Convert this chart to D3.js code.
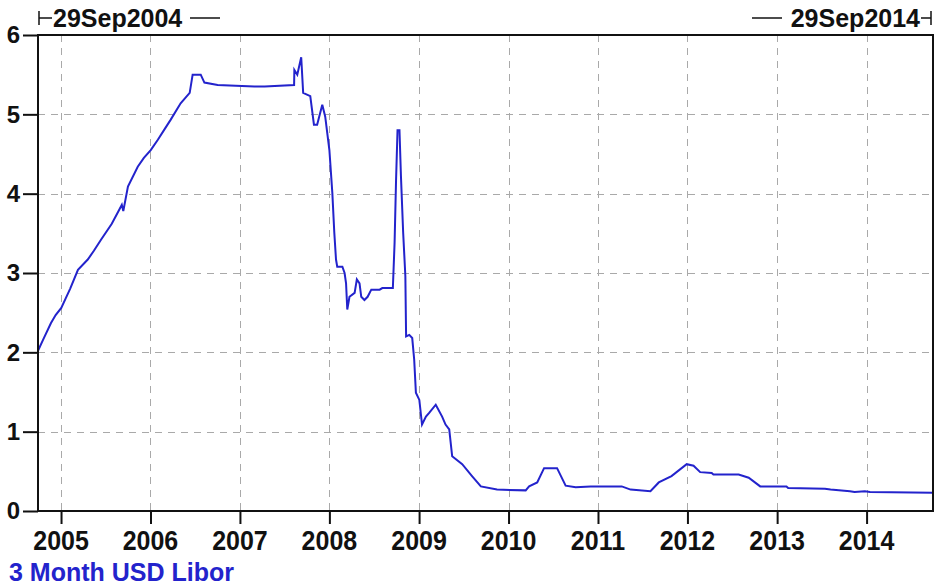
<!DOCTYPE html>
<html>
<head>
<meta charset="utf-8">
<script src="https://cdn.jsdelivr.net/npm/d3@7"></script>
<style>
  html, body { margin: 0; padding: 0; background: #fff; }
  svg { display: block; }
  text { font-family: "Liberation Sans", Arial, sans-serif; font-weight: bold; }
</style>
</head>
<body>
<svg id="chart" width="938" height="587"></svg>
<script>
// ---- data ----
const seriesName = "3 Month USD Libor";
const startLabel = "29Sep2004";
const endLabel = "29Sep2014";
const dates = [
  "2004-09-29","2004-10-20","2004-11-21","2004-12-10","2005-01-02","2005-01-20","2005-02-07","2005-03-11",
  "2005-04-20","2005-05-15","2005-06-13","2005-07-27","2005-08-27","2005-09-06","2005-09-12","2005-10-01",
  "2005-11-10","2005-12-05","2006-01-02","2006-01-31","2006-03-01","2006-03-24","2006-05-04","2006-06-10",
  "2006-06-22","2006-07-25","2006-08-09","2006-10-02","2006-12-15","2007-03-01","2007-04-12","2007-08-10",
  "2007-08-11","2007-08-23","2007-09-08","2007-09-16","2007-10-15","2007-10-30","2007-11-12","2007-12-03",
  "2007-12-15","2008-01-01","2008-01-13","2008-01-21","2008-01-28","2008-02-02","2008-02-23","2008-03-03",
  "2008-03-09","2008-03-14","2008-03-23","2008-04-13","2008-04-22","2008-05-03","2008-05-10","2008-05-23",
  "2008-06-05","2008-06-20","2008-07-24","2008-08-04","2008-09-16","2008-09-23","2008-09-29","2008-10-05",
  "2008-10-13","2008-10-19","2008-10-28","2008-11-06","2008-11-09","2008-11-22","2008-12-04","2008-12-12",
  "2008-12-19","2009-01-02","2009-01-13","2009-01-29","2009-02-12","2009-03-10","2009-04-05","2009-04-19",
  "2009-05-04","2009-05-16","2009-06-26","2009-08-05","2009-09-10","2009-11-15","2010-03-12","2010-03-26",
  "2010-04-28","2010-05-26","2010-07-18","2010-08-22","2010-10-02","2010-12-02","2011-04-08","2011-05-14",
  "2011-08-03","2011-09-06","2011-10-28","2011-12-29","2012-01-26","2012-02-22","2012-04-09","2012-04-16",
  "2012-07-28","2012-09-07","2012-10-24","2013-02-08","2013-02-15","2013-07-15","2013-08-07","2013-10-25",
  "2013-11-13","2013-12-25","2014-01-15","2014-09-29"
];
const values = [
  2.02, 2.16, 2.37, 2.47, 2.56, 2.68, 2.80, 3.04,
  3.17, 3.28, 3.42, 3.62, 3.80, 3.86, 3.78, 4.09,
  4.34, 4.45, 4.55, 4.68, 4.82, 4.93, 5.14, 5.27,
  5.50, 5.50, 5.40, 5.37, 5.36, 5.35, 5.35, 5.37,
  5.56, 5.50, 5.72, 5.27, 5.23, 4.87, 4.87, 5.12,
  4.97, 4.55, 4.01, 3.51, 3.17, 3.08, 3.08, 3.00,
  2.87, 2.54, 2.70, 2.75, 2.92, 2.87, 2.70, 2.66,
  2.70, 2.79, 2.79, 2.81, 2.81, 3.38, 4.17, 4.80,
  4.80, 4.22, 3.51, 2.96, 2.20, 2.22, 2.18, 1.91,
  1.49, 1.40, 1.09, 1.19, 1.24, 1.34, 1.19, 1.09,
  1.03, 0.69, 0.59, 0.44, 0.31, 0.27, 0.26, 0.31,
  0.36, 0.54, 0.54, 0.32, 0.30, 0.31, 0.31, 0.27,
  0.25, 0.36, 0.44, 0.59, 0.57, 0.49, 0.48, 0.46,
  0.46, 0.42, 0.31, 0.31, 0.29, 0.28, 0.27, 0.25,
  0.24, 0.25, 0.24, 0.23
];
const yearTicks = [2005, 2006, 2007, 2008, 2009, 2010, 2011, 2012, 2013, 2014];
const yTicks = [0, 1, 2, 3, 4, 5, 6];

// ---- layout ----
const L = 38, R = 933, T = 35, B = 511;
const parse = d3.timeParse("%Y-%m-%d");
const data = dates.map((d, i) => ({ date: parse(d), value: values[i] }));

const x = d3.scaleTime()
  .domain([parse("2004-09-29"), parse("2014-09-29")])
  .range([L, R]);
const y = d3.scaleLinear().domain([0, 6]).range([B, T]);

const svg = d3.select("#chart");
const lineColor = "#2323cc";

// grid
const grid = svg.append("g").attr("stroke", "#a9a9a9").attr("stroke-width", 1)
  .attr("stroke-dasharray", "7,6");
grid.selectAll("line.v").data(yearTicks).join("line")
  .attr("class", "v")
  .attr("x1", d => Math.round(x(new Date(d, 0, 1))) + 0.5)
  .attr("x2", d => Math.round(x(new Date(d, 0, 1))) + 0.5)
  .attr("y1", T).attr("y2", B);
grid.selectAll("line.h").data(yTicks.filter(v => v > 0 && v < 6)).join("line")
  .attr("class", "h")
  .attr("x1", L).attr("x2", R)
  .attr("y1", d => Math.round(y(d)) + 0.5)
  .attr("y2", d => Math.round(y(d)) + 0.5);

// series line
svg.append("path")
  .datum(data)
  .attr("fill", "none")
  .attr("stroke", lineColor)
  .attr("stroke-width", 2)
  .attr("stroke-linejoin", "miter")
  .attr("d", d3.line().x(d => x(d.date)).y(d => y(d.value)));

// axes
const xAxis = d3.axisBottom(x)
  .tickValues(yearTicks.map(yv => new Date(yv, 0, 1)))
  .tickFormat(() => "")
  .tickSize(13).tickSizeOuter(0);
const gx = svg.append("g").attr("transform", `translate(0,${B})`).call(xAxis);
gx.select(".domain").remove();
gx.selectAll(".tick line").attr("stroke", "#111").attr("stroke-width", 2);
gx.selectAll(".tick text").remove();

// year labels (slightly tall glyphs as in the reference)
const sy = 1.12;
svg.append("g").selectAll("text").data(yearTicks).join("text")
  .attr("x", d => x(new Date(d, 0, 1)))
  .attr("y", 550 / sy)
  .attr("transform", `scale(1,${sy})`)
  .attr("text-anchor", "middle")
  .attr("fill", "#111")
  .style("font-size", "25px")
  .text(d => d);

const yAxis = d3.axisLeft(y)
  .tickValues(yTicks)
  .tickFormat(d3.format("d"))
  .tickSize(15).tickPadding(3).tickSizeOuter(0);
const gy = svg.append("g").attr("transform", `translate(${L},0)`).call(yAxis);
gy.select(".domain").remove();
gy.selectAll(".tick line").attr("stroke", "#111").attr("stroke-width", 2);
gy.selectAll(".tick text").attr("fill", "#111").style("font-size", "24px");

// frame
svg.append("rect")
  .attr("x", L).attr("y", T).attr("width", R - L).attr("height", B - T)
  .attr("fill", "none").attr("stroke", "#111").attr("stroke-width", 2);

// top range labels
const hdr = svg.append("g").attr("stroke", "#111").attr("stroke-width", 1.5);
hdr.append("line").attr("x1", 39).attr("x2", 39).attr("y1", 11).attr("y2", 25);
hdr.append("line").attr("x1", 39).attr("x2", 52).attr("y1", 18).attr("y2", 18);
hdr.append("line").attr("x1", 190).attr("x2", 220).attr("y1", 18).attr("y2", 18);
hdr.append("line").attr("x1", 752).attr("x2", 782).attr("y1", 18).attr("y2", 18);
hdr.append("line").attr("x1", 921).attr("x2", 931).attr("y1", 18).attr("y2", 18);
hdr.append("line").attr("x1", 931).attr("x2", 931).attr("y1", 11).attr("y2", 25);
svg.append("text").attr("x", 53).attr("y", 27).attr("fill", "#111")
  .style("font-size", "25px").text(startLabel);
svg.append("text").attr("x", 920).attr("y", 27).attr("fill", "#111")
  .attr("text-anchor", "end").style("font-size", "25px").text(endLabel);

// legend
svg.append("text").attr("x", 9).attr("y", 581).attr("fill", lineColor)
  .style("font-size", "25px").text(seriesName);
</script>
</body>
</html>
